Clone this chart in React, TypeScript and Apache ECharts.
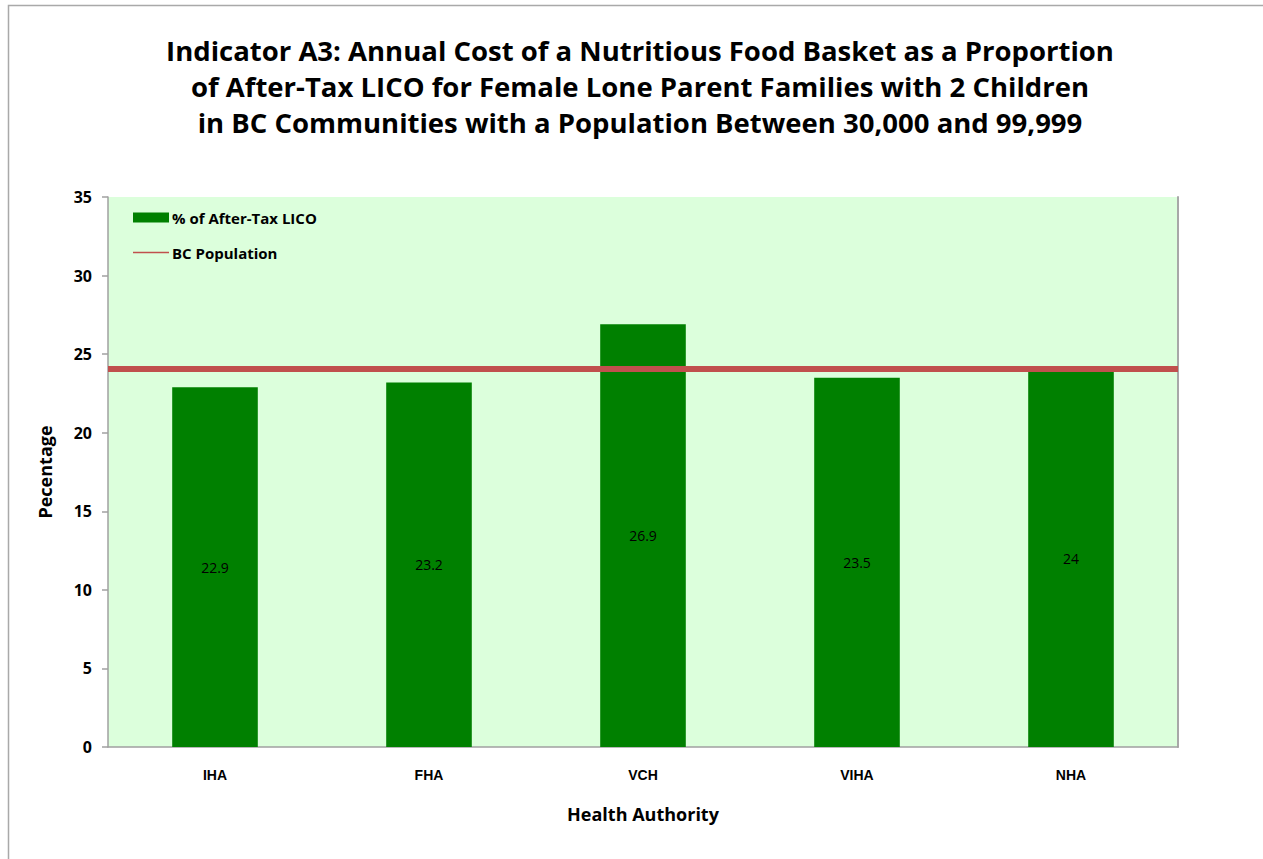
import React, { useEffect, useRef } from "react";
import * as echarts from "echarts";

const categories = ["IHA", "FHA", "VCH", "VIHA", "NHA"];
const licoPercent = [22.9, 23.2, 26.9, 23.5, 24];
const bcPopulation = 24.1;
const yTicks = { min: 0, max: 35, interval: 5 };
const titleLines = [
  "Indicator A3: Annual Cost of a Nutritious Food Basket as a Proportion",
  "of After-Tax LICO for Female Lone Parent Families with 2 Children",
  "in BC Communities with a Population Between 30,000 and 99,999",
];

const FONT = "'Open Sans', Lato, sans-serif";
const RED = "#c0504d";

export default function App() {
  const ref = useRef<HTMLDivElement>(null);
  useEffect(() => {
    document.body.style.margin = "0";
    const chart = echarts.init(ref.current!, null, { renderer: "svg" });
    chart.setOption({
      animation: false,
      backgroundColor: "#ffffff",
      title: {
        text: titleLines.join("\n"),
        left: 635,
        textAlign: "center",
        top: 27,
        textStyle: {
          fontFamily: FONT,
          fontWeight: "bold",
          fontSize: 27.5,
          lineHeight: 36,
          color: "#000",
        },
      },
      graphic: [
        {
          type: "rect",
          shape: { x: 8.5, y: 5.5, width: 1400, height: 1000 },
          style: { fill: "none", stroke: "#a9a9a9", lineWidth: 1.5 },
          silent: true,
        },
      ],
      legend: {
        orient: "vertical",
        left: 128,
        top: 205,
        itemWidth: 36,
        itemHeight: 10,
        itemGap: 20,
        symbolKeepAspect: true,
        textStyle: {
          fontFamily: FONT,
          fontWeight: "bold",
          fontSize: 15,
          color: "#000",
          padding: [0, 0, 0, -2],
        },
        data: [
          { name: "% of After-Tax LICO", icon: "rect", itemStyle: { color: "#008000" } },
          {
            name: "BC Population",
            icon: "path://M0,0 L36,0 L36,1.4 L0,1.4 Z",
            itemStyle: { color: RED, borderWidth: 0 },
          },
        ],
      },
      grid: {
        left: 108,
        top: 197,
        right: 85,
        bottom: 112,
        show: true,
        backgroundColor: "#dcffdc",
        borderWidth: 0,
      },
      xAxis: {
        type: "category",
        data: categories,
        name: "Health Authority",
        nameLocation: "middle",
        nameGap: 58,
        nameTextStyle: {
          fontFamily: FONT,
          fontWeight: "bold",
          fontSize: 18,
          color: "#000",
          verticalAlign: "top",
        },
        axisLine: { lineStyle: { color: "#a0a0a0", width: 1.5 } },
        axisTick: { show: false },
        axisLabel: {
          margin: 21,
          fontFamily: "'Liberation Sans', Arial, sans-serif",
          fontWeight: "bold",
          fontSize: 14,
          color: "#000",
        },
      },
      yAxis: [
        {
          type: "value",
          min: yTicks.min,
          max: yTicks.max,
          interval: yTicks.interval,
          name: "Pecentage",
          nameLocation: "middle",
          nameGap: 54,
          nameTextStyle: {
            fontFamily: FONT,
            fontWeight: "bold",
            fontSize: 18,
            color: "#000",
          },
          splitLine: { show: false },
          axisLine: { show: true, lineStyle: { color: "#a0a0a0", width: 1.5 } },
          axisTick: { show: true, length: 6, lineStyle: { color: "#a0a0a0", width: 1.5 } },
          axisLabel: {
            margin: 16,
            fontFamily: FONT,
            fontWeight: "bold",
            fontSize: 16,
            color: "#000",
          },
        },
        {
          type: "value",
          position: "right",
          min: yTicks.min,
          max: yTicks.max,
          interval: yTicks.interval,
          splitLine: { show: false },
          axisLine: { show: true, lineStyle: { color: "#a8a8a8", width: 2 } },
          axisTick: { show: false },
          axisLabel: { show: false },
        },
      ],
      series: [
        {
          name: "% of After-Tax LICO",
          type: "bar",
          data: licoPercent,
          barWidth: "40%",
          itemStyle: { color: "#008000" },
          label: {
            show: true,
            position: "inside",
            fontFamily: FONT,
            fontSize: 14,
            color: "#000",
          },
        },
        {
          name: "BC Population",
          type: "line",
          data: [],
          color: RED,
          itemStyle: { color: RED },
          lineStyle: { color: RED },
          markLine: {
            silent: true,
            symbol: "none",
            label: { show: false },
            lineStyle: { color: RED, width: 6, type: "solid" },
            data: [{ yAxis: bcPopulation }],
          },
        },
      ],
    });
    return () => chart.dispose();
  }, []);
  return (
    <div
      ref={ref}
      style={{ position: "absolute", left: 0, top: 0, width: 1263, height: 859 }}
    />
  );
}
